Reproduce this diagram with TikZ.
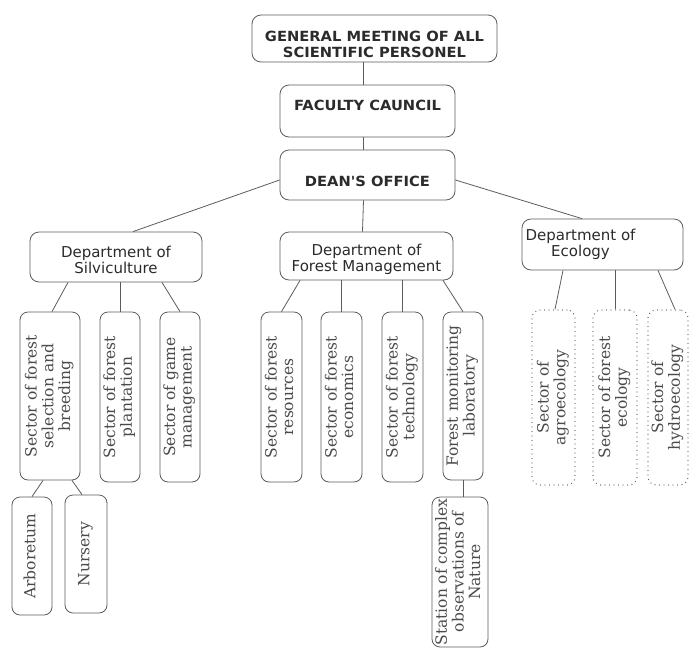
\documentclass[tikz,border=0pt]{standalone}
\usepackage{fontspec}
\usepackage{graphicx}
\setmainfont{DejaVu Serif}
\newfontfamily\headfont[FakeStretch=1.05]{DejaVu Sans}
\newfontfamily\deptfont{DejaVu Sans}
\definecolor{inkdark}{HTML}{2B2B2B}
\definecolor{inkgray}{HTML}{4A4A4A}
\definecolor{linegray}{HTML}{5C5C5C}
\newcommand{\vtext}[1]{\rotatebox{90}{\begin{tabular}{@{}c@{}}#1\end{tabular}}}

\begin{document}
\begin{tikzpicture}[x=1pt, y=-1pt,
    topbox/.style={draw=linegray, line width=0.8pt, rounded corners=9pt, align=center, inner sep=0pt, text=inkdark, font=\headfont\bfseries\fontsize{14}{16}\selectfont},
    toptext/.style={align=center, inner sep=0pt, text=inkdark, font=\headfont\bfseries\fontsize{14}{16}\selectfont},
    deptbox/.style={draw=linegray, line width=0.8pt, rounded corners=9pt, align=center, inner sep=0pt, text=inkdark, font=\deptfont\fontsize{15}{16}\selectfont},
    depttext/.style={align=center, inner sep=0pt, text=inkdark, font=\deptfont\fontsize{15}{16}\selectfont},
    sectbox/.style={draw=linegray, line width=0.8pt, rounded corners=8pt, inner sep=0pt, text=inkgray, font=\fontsize{15.5}{16.5}\selectfont},
    dotbox/.style={sectbox, line width=1.3pt, dash pattern=on 0pt off 4.5pt, line cap=round},
    link/.style={draw=linegray, line width=0.8pt}]
    \useasboundingbox (0, 0) rectangle (689, 657);

    \node[topbox, minimum width=245, minimum height=47] (meeting) at (374.5, 38.5) {};
    \node[toptext] (meetingtext) at ([yshift=-6pt]meeting.center) {GENERAL MEETING OF ALL\\SCIENTIFIC PERSONEL};
    \node[topbox, minimum width=175, minimum height=52, text height=10pt, text depth=12pt] (council) at (367.5, 111) {FACULTY CAUNCIL};
    \node[topbox, minimum width=175, minimum height=50, text height=24pt, text depth=2pt] (dean) at (367.5, 175) {DEAN'S OFFICE};

    \node[deptbox, minimum width=172, minimum height=50] (silv) at (116, 257) {};
    \node[depttext] (silvtext) at ([yshift=-3pt]silv.center) {Department of\\Silviculture};
    \node[deptbox, minimum width=173, minimum height=48] (forman) at (366.5, 256) {};
    \node[depttext] (formantext) at ([yshift=-3pt]forman.center) {Department of\\Forest Management};
    \node[deptbox, minimum width=161, minimum height=51] (eco) at (602.5, 244.5) {};
    \node[depttext] (ecotext) at ([xshift=-22pt]eco.center) {Department of\\Ecology};

    \node[sectbox, minimum width=60, minimum height=168] (sel) at (50, 396) {\vtext{Sector of forest\\selection and\\breeding}};
    \node[sectbox, minimum width=40, minimum height=170] (plant) at (120, 397) {\vtext{Sector of forest\\plantation}};
    \node[sectbox, minimum width=40, minimum height=170] (game) at (180, 397) {\vtext{Sector of game\\management}};
    \node[sectbox, minimum width=41, minimum height=170] (res) at (281.5, 397) {\vtext{Sector of forest\\resources}};
    \node[sectbox, minimum width=41, minimum height=170] (econ) at (341.5, 397) {\vtext{Sector of forest\\economics}};
    \node[sectbox, minimum width=41, minimum height=170] (tech) at (402.5, 397) {\vtext{Sector of forest\\technology}};
    \node[sectbox, minimum width=40, minimum height=168] (mon) at (463, 396) {\vtext{Forest monitoring\\laboratory}};
    \node[dotbox, minimum width=43, minimum height=175] (agro) at (553.5, 397.5) {\vtext{Sector of\\agroecology}};
    \node[dotbox, minimum width=44, minimum height=175] (fe) at (615, 397.5) {\vtext{Sector of forest\\ecology}};
    \node[dotbox, minimum width=40, minimum height=175] (hydro) at (668, 397.5) {\vtext{Sector of\\hydroecology}};

    \node[sectbox, minimum width=40, minimum height=118] (arb) at (32, 556) {\vtext{Arboretum}};
    \node[sectbox, minimum width=42, minimum height=118] (nur) at (86, 554) {\vtext{Nursery}};
    \node[sectbox, minimum width=56, minimum height=150] (station) at (460, 572) {\vtext{Station of complex\\observations of\\Nature}};

    \draw[link] ([xshift=-4pt]council.north) -- ([xshift=-4pt]council.north |- meeting.south);
    \draw[link] ([xshift=-4pt]dean.north) -- ([xshift=-4pt]council.south);
    \draw[link] ([yshift=-5pt]dean.west) -- ([xshift=17pt]silv.north);
    \draw[link] ([xshift=-4pt]dean.south) -- ([xshift=-4pt]forman.north);
    \draw[link] ([yshift=-5pt]dean.east) -- ([xshift=-20.5pt]eco.north);

    \draw[link] ([xshift=-48pt]silv.south) -- ([xshift=2pt]sel.north);
    \draw[link] (plant.north |- silv.south) -- (plant.north);
    \draw[link] ([xshift=46pt]silv.south) -- (game.north);
    \draw[link] ([xshift=-66.5pt]forman.south) -- (res.north);
    \draw[link] (econ.north |- forman.south) -- (econ.north);
    \draw[link] (tech.north |- forman.south) -- (tech.north);
    \draw[link] ([xshift=76.5pt]forman.south) -- (mon.north);
    \draw[link] ([xshift=-39.5pt]eco.south) -- ([xshift=1.5pt]agro.north);
    \draw[link] (fe.north |- eco.south) -- (fe.north);
    \draw[link] ([xshift=55.5pt]eco.south) -- ([xshift=7pt]hydro.north);

    \draw[link] ([xshift=-7pt]sel.south) -- (arb.north);
    \draw[link] ([xshift=22pt]sel.south) -- ([xshift=-4pt]nur.north);
    \draw[link] (mon.south) -- (mon.south |- station.north);
\end{tikzpicture}
\end{document}
